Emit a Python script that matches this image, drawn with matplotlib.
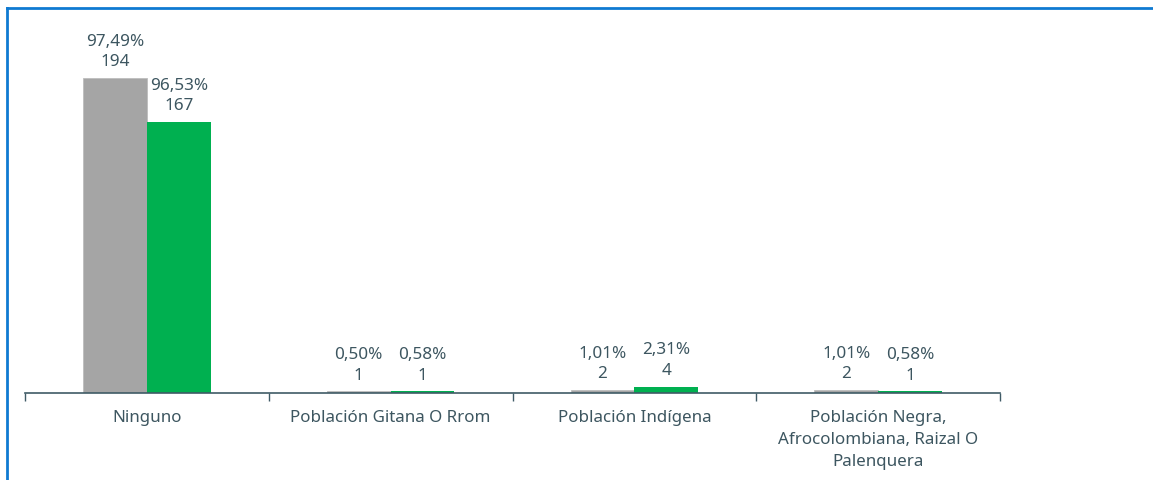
import numpy as np
import matplotlib.pyplot as plt
from matplotlib.lines import Line2D

plt.rcParams['font.family'] = ['Noto Sans', 'DejaVu Sans']

categorias = ['Ninguno', 'Población Gitana O Rrom', 'Población Indígena',
              'Población Negra,\nAfrocolombiana, Raizal O\nPalenquera']
serie_gris = [194, 1, 2, 2]
pct_gris = ['97,49%', '0,50%', '1,01%', '1,01%']
serie_verde = [167, 1, 4, 1]
pct_verde = ['96,53%', '0,58%', '2,31%', '0,58%']

color_texto = '#3d5660'
W, H = 1153, 480
fig = plt.figure(figsize=(W / 100, H / 100), dpi=100)

# axes placed in pixels: x from 25 to 1000, baseline at y=393
ymax = 220
px_per_unit = 315 / 194
ax_h = ymax * px_per_unit
ax = fig.add_axes([25 / W, (H - 393) / H, 975 / W, ax_h / H])

x = np.arange(len(categorias))
w = 0.262
b1 = ax.bar(x - w / 2, serie_gris, w, color='#a5a5a5', edgecolor='#bdbdbd', linewidth=0.6)
b2 = ax.bar(x + w / 2, serie_verde, w, color='#00b050')

for bars, vals, pcts in [(b1, serie_gris, pct_gris), (b2, serie_verde, pct_verde)]:
    for rect, v, p in zip(bars, vals, pcts):
        ax.annotate(f'{p}\n{v}', (rect.get_x() + rect.get_width() / 2, v),
                    xytext=(0, 5.5), textcoords='offset points', ha='center', va='bottom',
                    fontsize=12.3, color=color_texto, linespacing=1.38)

ax.set_xlim(-0.5, len(categorias) - 0.5)
ax.set_ylim(0, ymax)
for s in ['top', 'right', 'left']:
    ax.spines[s].set_visible(False)
ax.spines['bottom'].set_color('#3f5b66')
ax.spines['bottom'].set_linewidth(1.2)
ax.set_yticks([])

# category labels and boundary ticks
ax.set_xticks(x)
ax.set_xticklabels(categorias, fontsize=12.2, color=color_texto, linespacing=1.52)
ax.tick_params(axis='x', length=0, pad=12)
ax.set_xticks(np.arange(-0.5, len(categorias)), minor=True)
ax.tick_params(axis='x', which='minor', length=6, width=1, color='#3f5b66', direction='out')

# blue frame (top and left edges)
fig.add_artist(Line2D([7 / W, 1], [1 - 8 / H, 1 - 8 / H], color='#0f7ad2', linewidth=2))
fig.add_artist(Line2D([7 / W, 7 / W], [0, 1 - 8 / H], color='#0f7ad2', linewidth=2))

fig.savefig('out.png', dpi=100, facecolor='white')
